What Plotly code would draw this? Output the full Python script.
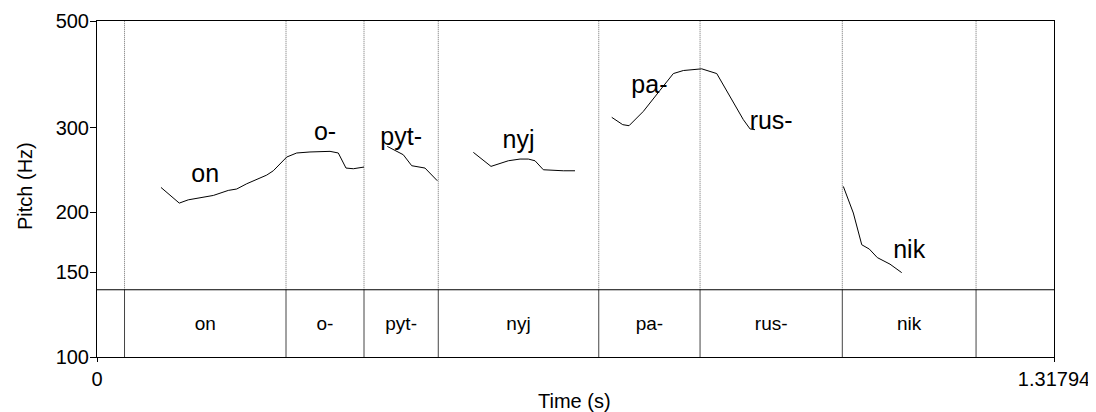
import plotly.graph_objects as go

# ---- data ----
t_end = 1.31794
boundaries = [0.0379, 0.2603, 0.3677, 0.4700, 0.6910, 0.8305, 1.0264, 1.2106]
syllables = ["on", "o-", "pyt-", "nyj", "pa-", "rus-", "nik"]
label_hz = [237.7, 291.4, 284.5, 280.1, 364.7, 306.8, 165.2]
tier_hz_line = 138.0
tier_label_hz = 116.6

seg1_t = [0.0881, 0.1133, 0.1257, 0.1419, 0.1602, 0.1808, 0.1924, 0.2062, 0.2199, 0.2337,
          0.2428, 0.2544, 0.2613, 0.2750, 0.2933, 0.3209, 0.3323, 0.3429, 0.3530, 0.3677]
seg1_hz = [225.3, 209.0, 212.3, 214.1, 216.8, 222.1, 223.6, 229.3, 234.5, 239.0,
           244.0, 255.1, 260.6, 265.7, 267.0, 267.8, 265.7, 247.2, 246.4, 248.4]
seg2_t = [0.3998, 0.4218, 0.4334, 0.4517, 0.4687]
seg2_hz = [274.2, 263.5, 250.0, 247.2, 232.6]
seg3_t = [0.5183, 0.5426, 0.5665, 0.5826, 0.5940, 0.6032, 0.6147, 0.6284, 0.6422, 0.6583]
seg3_hz = [266.5, 249.2, 256.0, 258.1, 258.1, 256.0, 245.2, 244.4, 244.0, 244.0]
seg4_t = [0.7089, 0.7240, 0.7327, 0.7524, 0.7754, 0.7937, 0.8075, 0.8259, 0.8328, 0.8535,
          0.8718, 0.8901, 0.8994, 0.9062]
seg4_hz = [315.2, 304.3, 302.8, 324.3, 358.8, 388.7, 394.4, 397.6, 397.6, 388.7,
           348.6, 311.7, 298.1, 297.1]
seg5_t = [1.0278, 1.0416, 1.0532, 1.0636, 1.0746, 1.0921, 1.1082]
seg5_hz = [226.4, 199.3, 171.2, 167.7, 161.0, 156.0, 149.8]

y_min, y_max = 100, 500
y_ticks = [100, 150, 200, 300, 500]

FONT = "Liberation Sans, Arial, sans-serif"

fig = go.Figure()

# boundaries: dotted in pitch area, solid in tier
up_x, up_y, lo_x, lo_y = [], [], [], []
for b in boundaries:
    up_x += [b, b, None]
    up_y += [tier_hz_line, y_max, None]
    lo_x += [b, b, None]
    lo_y += [y_min, tier_hz_line, None]
fig.add_trace(go.Scatter(x=up_x, y=up_y, mode="lines",
                         line=dict(color="#707070", width=1, dash="1px,1px"),
                         hoverinfo="skip", showlegend=False))
fig.add_trace(go.Scatter(x=lo_x, y=lo_y, mode="lines",
                         line=dict(color="#444444", width=1),
                         hoverinfo="skip", showlegend=False))
# tier separator
fig.add_trace(go.Scatter(x=[0, t_end], y=[tier_hz_line, tier_hz_line], mode="lines",
                         line=dict(color="black", width=1),
                         hoverinfo="skip", showlegend=False))

# pitch contour
cx, cy = [], []
for ts, hs in [(seg1_t, seg1_hz), (seg2_t, seg2_hz), (seg3_t, seg3_hz),
               (seg4_t, seg4_hz), (seg5_t, seg5_hz)]:
    cx += ts + [None]
    cy += hs + [None]
fig.add_trace(go.Scatter(x=cx, y=cy, mode="lines", connectgaps=False,
                         line=dict(color="black", width=1),
                         showlegend=False))

mids = [(boundaries[i] + boundaries[i + 1]) / 2 for i in range(len(syllables))]
# syllable labels in pitch area
fig.add_trace(go.Scatter(x=mids, y=label_hz, mode="text", text=syllables,
                         textfont=dict(family=FONT, size=25, color="black"),
                         textposition="middle center", showlegend=False,
                         hoverinfo="skip"))
# tier labels
fig.add_trace(go.Scatter(x=mids, y=[tier_label_hz] * len(mids), mode="text",
                         text=syllables,
                         textfont=dict(family=FONT, size=19, color="black"),
                         textposition="middle center", showlegend=False,
                         hoverinfo="skip"))

# the page body has an 8px margin, so the figure is shrunk by that offset
fig.update_layout(
    width=1088, height=404,
    margin=dict(l=89, r=42, t=13, b=55),
    paper_bgcolor="white", plot_bgcolor="white",
    font=dict(family=FONT, size=20, color="black"),
    showlegend=False,
    annotations=[
        dict(text="Pitch (Hz)", xref="paper", yref="paper", x=0, y=0.5,
             xanchor="center", yanchor="middle", xshift=-72, yshift=3,
             textangle=-90, showarrow=False,
             font=dict(family=FONT, size=20, color="black")),
        dict(text="Time (s)", xref="paper", yref="paper", x=0.5, y=0,
             xanchor="center", yanchor="middle", yshift=-44, xshift=-1,
             showarrow=False, font=dict(family=FONT, size=20, color="black")),
    ],
)
fig.update_xaxes(
    range=[0, t_end], tickvals=[0, t_end], ticktext=["0", "1.31794"],
    showgrid=False, zeroline=False, showline=True, mirror=True, automargin=False,
    linecolor="black", linewidth=1, ticks="outside", ticklen=4, tickcolor="black",
    tickfont=dict(family=FONT, size=20),
)
fig.update_yaxes(
    type="log", range=[2, 2.69897], tickvals=y_ticks,
    ticktext=[str(v) for v in y_ticks], automargin=False,
    showgrid=False, zeroline=False, showline=True, mirror=True,
    linecolor="black", linewidth=1, ticks="outside", ticklen=6, tickcolor="black",
    tickfont=dict(family=FONT, size=20), ticklabelstandoff=-3,
)

fig.write_html("out.html")
